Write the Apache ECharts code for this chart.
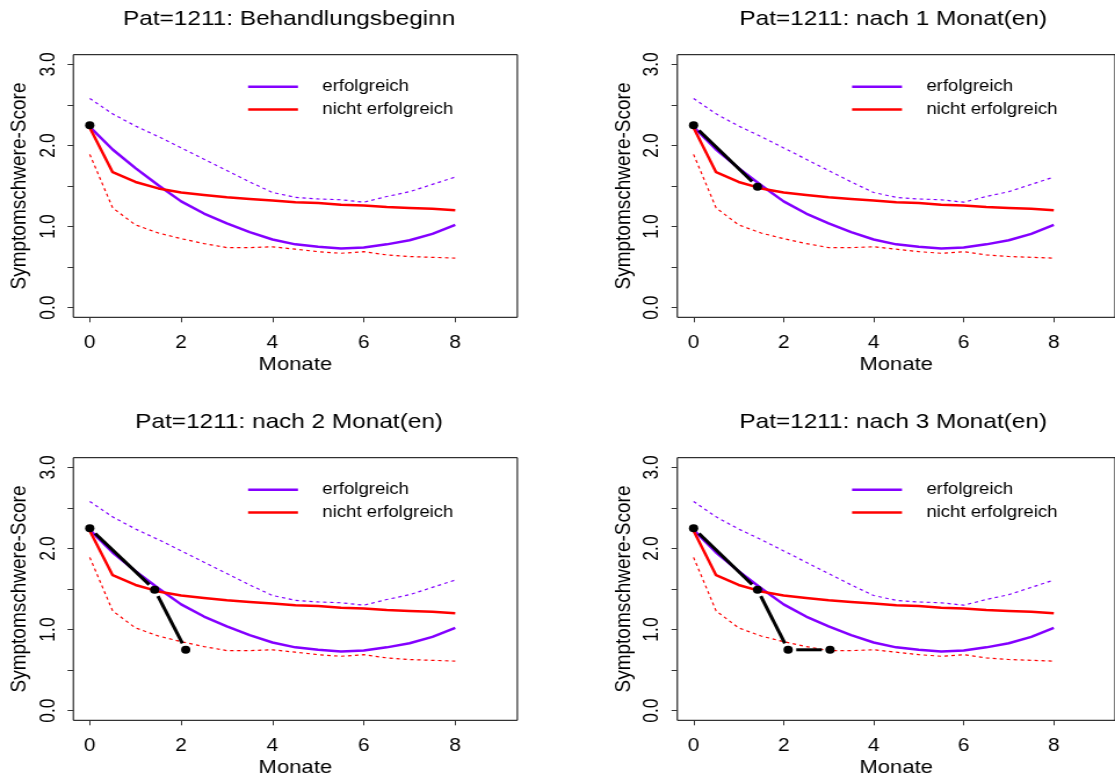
<!DOCTYPE html>
<html><head><meta charset="utf-8">
<script src="https://cdn.jsdelivr.net/npm/echarts@6/dist/echarts.min.js"></script>
<style>
html,body{margin:0;padding:0;background:#fff;overflow:hidden;width:1115px;height:780px;}
#wrap{width:1115px;height:780px;overflow:hidden;position:relative;}
#chart{width:961px;height:780px;transform:scaleX(1.16025);transform-origin:0 0;}
</style></head><body><div id="wrap"><div id="chart"></div></div>
<script>
// ---- data ----
const months = [0,0.5,1,1.5,2,2.5,3,3.5,4,4.5,5,5.5,6,6.5,7,7.5,8];
const successMean  = [2.23,1.95,1.72,1.51,1.31,1.16,1.04,0.93,0.84,0.78,0.75,0.73,0.74,0.78,0.83,0.91,1.02];
const failMean     = [2.22,1.67,1.55,1.47,1.42,1.39,1.36,1.34,1.32,1.30,1.29,1.27,1.26,1.24,1.23,1.22,1.20];
const successUpper = [2.58,2.39,2.24,2.11,1.97,1.83,1.69,1.55,1.42,1.36,1.34,1.33,1.30,1.37,1.43,1.52,1.61];
const failLower    = [1.89,1.23,1.02,0.92,0.85,0.79,0.74,0.74,0.75,0.72,0.69,0.67,0.69,0.65,0.63,0.62,0.61];
const patientMonths = [0, 1.42, 2.10, 3.03];
const patientScores = [2.25, 1.49, 0.75, 0.75];
const pointsShown = [1, 2, 3, 4];
const panelTitles = [
  'Pat=1211: Behandlungsbeginn',
  'Pat=1211: nach 1 Monat(en)',
  'Pat=1211: nach 2 Monat(en)',
  'Pat=1211: nach 3 Monat(en)'
];
const legendNames = ['erfolgreich', 'nicht erfolgreich'];
const xTicks = [0, 2, 4, 6, 8];
const yTicks = [0, 0.5, 1, 1.5, 2, 2.5, 3];
const yLabels = [0, 1, 2, 3];
const xName = 'Monate';
const yName = 'Symptomschwere-Score';

// ---- layout (unstretched design px) ----
const FONT = '"Liberation Sans", Arial, Helvetica, sans-serif';
const PURPLE = '#8400FF', RED = '#FF0000';
const gridLefts = [63.2, 583.8, 63.2, 583.8];
const gridTops = [54.7, 54.7, 457.7, 457.7];
const GW = 382.7, GH = 262.6;

const zip = (xs, ys) => xs.map((x, i) => [x, ys[i]]);

const grids = [], xAxes = [], yAxes = [], series = [], titles = [], legends = [];
for (let p = 0; p < 4; p++) {
  grids.push({left: gridLefts[p], top: gridTops[p], width: GW, height: GH,
    show: true, borderColor: '#000', borderWidth: 1, backgroundColor: 'transparent'});
  xAxes.push({type: 'value', gridIndex: p, position: 'bottom', min: -0.36, max: 9.36,
    name: xName, nameLocation: 'middle', nameGap: 38,
    nameTextStyle: {fontFamily: FONT, fontSize: 19, color: '#000', lineHeight: 19},
    axisLine: {show: false, onZero: false},
    axisTick: {show: true, inside: false, length: 5, customValues: xTicks, lineStyle: {color: '#333', width: 1}},
    axisLabel: {customValues: xTicks, margin: 17, fontFamily: FONT, fontSize: 18, color: '#000', lineHeight: 18},
    splitLine: {show: false}});
  yAxes.push({type: 'value', gridIndex: p, position: 'left', min: -0.12, max: 3.12,
    name: yName, nameLocation: 'middle', nameGap: 37, nameRotate: 90,
    nameTextStyle: {fontFamily: FONT, fontSize: 19, color: '#000', lineHeight: 19},
    axisLine: {show: false, onZero: false},
    axisTick: {show: true, inside: false, length: 5, customValues: yTicks, lineStyle: {color: '#333', width: 1}},
    axisLabel: {customValues: yLabels, rotate: 90, margin: 12.5, fontFamily: FONT, fontSize: 17.5,
      color: '#000', lineHeight: 17.5, formatter: v => Number(v).toFixed(1)},
    splitLine: {show: false}});
  const common = {type: 'line', xAxisIndex: p, yAxisIndex: p, symbol: 'none', showSymbol: false, animation: false};
  series.push(Object.assign({}, common, {name: 'erfolgreich', data: zip(months, successMean),
    lineStyle: {color: PURPLE, width: 2.5}, itemStyle: {color: PURPLE}, z: 3}));
  series.push(Object.assign({}, common, {name: 'nicht erfolgreich', data: zip(months, failMean),
    lineStyle: {color: RED, width: 2.5}, itemStyle: {color: RED}, z: 3}));
  series.push(Object.assign({}, common, {name: 'erfolgreich (obere Grenze)', data: zip(months, successUpper),
    lineStyle: {color: PURPLE, width: 1.2, type: [3, 3]}, itemStyle: {color: PURPLE}, z: 2}));
  series.push(Object.assign({}, common, {name: 'nicht erfolgreich (untere Grenze)', data: zip(months, failLower),
    lineStyle: {color: RED, width: 1.2, type: [3, 3]}, itemStyle: {color: RED}, z: 2}));
  const n = pointsShown[p];
  const pts = zip(patientMonths.slice(0, n), patientScores.slice(0, n));
  const segs = [];
  for (let i = 0; i + 1 < pts.length; i++) segs.push([pts[i][0], pts[i][1], pts[i + 1][0], pts[i + 1][1]]);
  series.push({type: 'custom', name: 'Patient Verlauf', xAxisIndex: p, yAxisIndex: p, z: 5,
    data: segs, encode: {x: [0, 2], y: [1, 3]},
    renderItem: function (params, api) {
      const a = api.coord([api.value(0), api.value(1)]);
      const b = api.coord([api.value(2), api.value(3)]);
      const dx = b[0] - a[0], dy = b[1] - a[1];
      const len = Math.hypot(dx, dy), g = 7;
      if (len <= 2 * g) return null;
      const ux = dx / len, uy = dy / len;
      return {type: 'line', shape: {x1: a[0] + ux * g, y1: a[1] + uy * g, x2: b[0] - ux * g, y2: b[1] - uy * g},
        style: {stroke: '#000', lineWidth: 3, lineCap: 'butt'}};
    }});
  series.push({type: 'scatter', name: 'Patient', xAxisIndex: p, yAxisIndex: p, z: 6,
    symbol: 'circle', symbolSize: 8, data: pts, itemStyle: {color: '#000', opacity: 1}, animation: false});
  titles.push({text: panelTitles[p], left: gridLefts[p] + 186, top: gridTops[p] - 45.7, textAlign: 'center',
    padding: 0, textStyle: {fontFamily: FONT, fontSize: 21, fontWeight: 'normal', color: '#000', lineHeight: 21}});
  legends.push({data: legendNames, orient: 'vertical', left: gridLefts[p] + 150.6, top: gridTops[p] + 24,
    padding: 0, icon: 'rect', itemWidth: 43, itemHeight: 2.5, itemGap: 6.7, selectedMode: false,
    textStyle: {fontFamily: FONT, fontSize: 16, color: '#000', lineHeight: 16, padding: [0, 0, 0, 16]}});
}

const chart = echarts.init(document.getElementById('chart'));
chart.setOption({animation: false, backgroundColor: '#fff', title: titles, legend: legends,
  grid: grids, xAxis: xAxes, yAxis: yAxes, series: series});
</script></body></html>
